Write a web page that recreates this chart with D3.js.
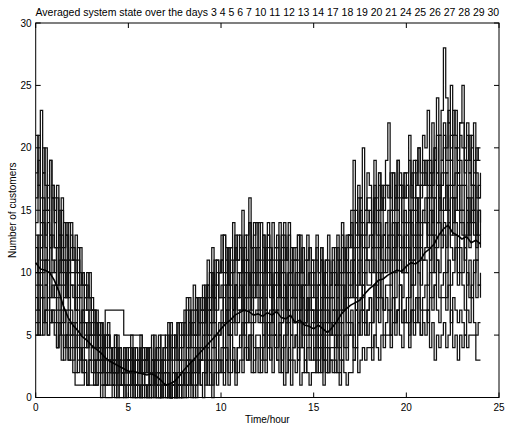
<!DOCTYPE html>
<html lang="en">
<head>
<meta charset="UTF-8">
<title>Averaged system state</title>
<script src="https://d3js.org/d3.v7.min.js"></script>
<style>
    body {
        margin: 0;
        background: #fff;
        font-family: "Liberation Sans", Arial, sans-serif;
    }
    .tick-label {
        font-size: 10px;
    }
</style>
</head>
<body>
<div id="chart"></div>
<script>
// each day is sampled every 1/8 hour, 0 .. 24 (8 values per hour, last one is t = 24)
var step = 0.125;
// the average is read every quarter hour
var avgStep = 0.25;

var s01 = [21,17,23,18,20,16,19,17, 16,12,15,11,14,13,10,12, 11,8,12,9,10,7,9,8, 7,5,6,4,6,5,3,5,
           4,2,5,3,4,2,3,4, 3,5,2,4,3,2,4,3, 4,2,5,3,4,5,3,4, 5,3,6,4,5,3,6,5,
           7,5,8,6,7,5,8,7, 9,7,11,8,12,9,11,10, 13,10,12,9,12,14,11,13, 12,15,11,13,16,12,14,11,
           14,11,13,10,13,12,9,11, 12,14,10,13,11,14,10,12, 12,9,13,10,11,13,9,11, 11,13,10,12,9,11,13,10,
           12,9,13,11,14,12,10,13, 15,19,14,17,16,20,15,18, 17,14,19,16,18,15,17,19, 22,16,18,15,19,17,16,18,
           18,21,16,19,17,20,18,21, 20,23,18,22,19,24,21,23, 28,24,22,25,21,23,20,22, 25,20,22,19,21,18,20,19, 19];
var s02 = [12,9,13,10,11,8,12,10, 11,8,10,12,9,11,8,10, 10,7,9,8,6,8,7,5, 6,4,5,3,4,2,7,7,
           7,7,7,7,7,7,5,5, 5,5,5,5,5,5,4,3, 3,4,2,3,1,2,3,2, 2,3,1,4,3,2,4,3,
           5,3,6,4,5,7,4,6, 7,5,8,6,9,7,10,8, 9,6,10,8,11,7,9,10, 8,11,7,10,9,12,8,11,
           9,7,10,8,11,9,7,10, 10,8,11,9,7,10,8,9, 8,10,7,9,6,8,10,7, 7,9,6,8,5,7,6,8,
           8,6,9,7,10,8,11,9, 11,8,12,10,13,9,11,12, 13,10,14,12,15,11,13,14, 12,15,11,14,13,16,12,15,
           14,11,15,13,16,12,14,15, 16,13,17,14,16,18,15,17, 18,15,17,19,16,18,15,17, 15,17,13,16,14,17,13,15, 14];
var s03 = [8,6,9,5,7,8,6,7, 7,4,6,5,3,5,4,3, 3,5,2,4,2,3,1,3, 2,3,1,2,0,1,0,0,
           0,1,0,2,0,0,1,0, 1,0,2,0,0,1,0,1, 0,0,2,1,0,0,1,0, 0,1,0,0,2,0,0,1,
           1,0,2,0,1,0,3,1, 0,2,1,3,0,2,1,2, 3,1,4,2,5,3,2,4, 5,3,6,4,3,5,2,4,
           4,2,5,3,6,4,2,5, 3,5,2,4,6,3,5,4, 5,3,6,4,2,4,3,5, 3,5,2,4,1,3,2,4,
           4,2,5,3,6,4,3,5, 6,4,7,5,8,6,5,7, 8,6,9,7,10,8,7,9, 9,7,10,8,11,9,8,10,
           10,8,11,9,12,10,9,11, 11,9,12,10,13,11,10,12, 13,10,14,12,11,13,10,12, 10,12,9,11,8,10,11,9, 10];
var s04 = [14,17,12,16,13,15,12,16, 12,9,13,10,11,8,14,11, 11,11,10,10,9,9,8,8, 7,7,6,5,6,4,5,6,
           4,3,5,2,4,3,4,2, 4,2,3,1,2,3,2,3, 2,4,3,1,3,4,2,3, 4,2,5,3,4,6,3,4,
           6,4,7,5,6,8,5,6, 8,6,9,7,10,8,7,10, 11,8,9,12,10,7,12,10, 10,12,8,11,9,12,8,10,
           11,8,10,12,9,11,8,9, 11,9,10,12,8,10,9,11, 9,11,8,10,7,9,10,8, 10,8,9,11,7,9,8,10,
           8,10,9,11,10,12,11,13, 13,11,14,12,15,13,12,15, 14,12,16,13,15,17,13,14, 15,13,14,16,15,17,14,16,
           17,14,15,18,16,14,17,18, 17,19,16,18,20,17,16,18, 20,18,19,21,17,20,18,19, 17,19,16,18,17,15,18,16, 17];
var s05 = [6,5,8,6,7,5,6,7, 5,4,6,3,5,4,3,4, 2,1,1,1,1,2,1,1, 1,1,1,2,1,1,1,1,
           1,1,2,1,1,1,1,1, 2,1,1,1,1,1,2,1, 1,1,1,2,1,0,1,1, 1,0,0,1,2,1,1,2,
           1,2,3,2,3,1,2,3, 3,2,4,1,3,4,2,3, 2,4,3,1,2,3,1,2, 3,2,4,3,5,2,3,4,
           2,4,3,2,4,3,5,4, 3,2,4,1,2,3,1,3, 2,3,1,2,3,2,1,2, 2,3,4,2,3,2,4,3,
           2,3,2,1,3,2,1,2, 2,3,4,2,3,4,3,4, 4,3,5,4,3,5,4,5, 5,4,6,5,7,5,4,6,
           6,5,7,6,8,6,5,7, 7,6,8,7,9,7,6,8, 8,7,9,6,8,7,6,7, 6,5,7,6,8,6,5,6, 6];
var s06 = [9,7,10,8,9,11,8,9, 8,6,7,9,6,7,5,7, 5,6,4,6,3,4,5,3, 4,2,3,4,2,3,1,3,
           2,3,1,2,3,2,1,2, 2,3,1,3,2,4,2,3, 4,2,3,1,2,3,2,3, 2,1,0,1,0,1,2,1,
           2,3,1,2,4,2,3,4, 5,3,4,6,4,5,3,5, 6,4,7,5,6,8,5,6, 7,5,8,6,7,9,6,7,
           6,8,5,7,4,6,7,5, 7,5,6,8,6,7,5,7, 6,4,7,5,6,8,5,6, 5,7,4,6,3,5,4,5,
           6,4,7,5,6,8,5,6, 7,5,8,6,7,9,6,7, 8,6,9,7,8,10,7,8, 7,5,8,6,7,9,6,7,
           6,4,7,5,6,8,5,6, 5,7,4,6,3,5,4,5, 6,4,5,7,4,5,3,5, 4,5,4,5,5,5,3,3, 3];
var s07 = [16,19,14,18,15,17,13,17, 14,16,12,15,11,13,10,13, 12,10,11,8,10,9,7,10, 8,6,7,5,6,4,5,5,
           4,2,3,4,3,2,4,3, 3,4,2,3,2,4,3,2, 3,1,2,3,4,2,3,4, 3,5,4,2,5,3,4,5,
           5,7,4,6,5,8,6,7, 8,6,9,7,10,8,11,10, 10,13,11,9,12,10,13,11, 12,10,13,11,14,12,10,12,
           11,14,12,10,13,11,14,12, 12,10,13,11,12,9,12,11, 11,13,10,12,9,11,12,10, 10,12,9,11,8,10,11,9,
           11,9,12,10,13,11,12,13, 12,15,13,16,14,12,15,16, 16,14,17,15,18,16,15,17, 17,15,18,16,19,17,16,18,
           16,19,17,15,18,20,17,19, 18,16,19,17,20,18,21,19, 21,19,22,20,23,21,19,22, 22,19,21,18,20,22,19,20, 20];
var s08 = [10,13,11,14,12,10,13,11, 10,12,9,11,8,10,7,9, 8,6,7,5,7,6,4,6, 5,3,4,5,3,4,2,3,
           3,2,4,2,3,1,2,3, 3,1,2,1,2,3,1,2, 2,1,3,1,2,1,2,1, 1,2,0,1,2,0,1,0,
           2,1,3,1,2,4,2,3, 4,2,5,3,4,6,3,5, 6,4,7,5,8,6,9,7, 7,9,6,8,10,7,9,8,
           8,6,9,7,10,8,6,9, 7,9,6,8,5,7,8,6, 8,6,7,9,6,7,5,7, 6,8,5,7,4,6,7,5,
           7,5,8,6,9,7,10,8, 9,11,8,10,9,7,10,11, 10,12,11,9,13,11,10,12, 12,10,13,11,14,12,10,13,
           13,11,14,12,15,13,11,14, 14,12,15,13,16,14,17,15, 15,17,14,16,13,15,17,14, 14,12,15,13,16,14,12,15, 13];
var s09 = [7,10,8,11,9,7,10,8, 9,7,8,6,7,5,6,5, 6,4,5,3,4,6,4,5, 4,2,3,4,2,3,1,2,
           3,1,2,3,1,2,0,1, 1,2,0,1,2,0,1,0, 1,0,2,0,1,2,0,2, 1,2,0,1,2,1,3,2,
           3,1,4,2,3,5,2,3, 6,4,7,5,6,8,5,6, 7,9,6,8,5,7,9,8, 10,7,9,11,8,10,12,9,
           10,8,11,9,12,10,8,10, 9,11,8,10,7,9,11,8, 10,7,9,8,6,8,7,9, 8,6,9,7,10,8,6,8,
           7,9,8,10,7,9,8,10, 10,12,9,11,13,10,12,11, 11,13,12,10,14,12,13,11, 13,11,14,12,15,13,12,14,
           12,15,13,11,14,16,13,15, 14,16,13,15,12,14,16,13, 16,18,15,17,14,16,18,15, 15,13,16,14,17,15,13,16, 16];
var s10 = [13,10,12,15,11,14,12,13, 12,9,11,13,10,8,11,9, 9,7,8,6,7,5,6,7, 5,7,4,6,3,5,4,5,
           4,2,3,5,4,2,3,2, 3,4,2,4,3,5,3,4, 3,1,2,3,1,2,0,2, 0,1,0,2,0,1,0,1,
           2,4,3,1,2,4,3,4, 6,8,5,7,6,8,9,8, 8,6,9,7,10,8,6,8, 9,7,10,8,6,8,10,9,
           7,9,6,8,5,7,9,7, 8,10,7,9,8,6,9,8, 7,9,6,8,5,7,8,7, 6,4,7,5,6,8,5,6,
           5,7,6,4,7,8,6,8, 8,10,7,9,11,8,10,9, 9,11,10,8,12,10,11,10, 11,9,12,10,13,11,10,12,
           10,12,9,11,13,10,12,11, 12,14,11,13,10,12,14,12, 14,12,15,13,16,14,12,15, 13,11,14,12,15,13,11,13, 12];
var s11 = [5,7,5,8,6,5,7,6, 6,4,5,7,4,5,3,5, 4,2,3,4,2,3,1,3, 3,1,2,3,2,1,2,1,
           2,1,2,0,1,2,1,1, 1,2,1,0,1,0,2,1, 0,1,0,1,0,0,1,1, 1,0,0,1,0,1,1,0,
           0,1,2,1,0,1,2,1, 2,1,3,2,1,3,2,3, 4,2,3,5,3,4,2,4, 4,6,5,3,5,6,4,5,
           5,3,4,6,4,5,7,5, 4,6,3,5,2,4,3,4, 5,3,4,6,3,5,4,3, 4,2,3,5,3,4,2,3,
           3,5,4,2,3,5,4,5, 5,3,4,6,5,7,6,5, 6,4,5,7,6,8,5,6, 7,5,8,6,7,9,6,7,
           8,6,9,7,8,10,7,8, 9,7,10,8,9,11,8,9, 10,8,11,9,10,12,9,10, 9,7,10,8,9,11,8,9, 8];
var s12 = [18,21,16,20,17,15,19,16, 15,17,13,16,12,14,11,14, 11,13,10,12,9,8,10,8, 7,5,6,4,5,3,4,4,
           3,4,2,4,3,1,2,3, 2,3,4,2,3,4,2,3, 4,2,3,5,3,4,5,5, 4,6,3,5,4,6,5,6,
           6,8,5,7,9,7,6,8, 7,9,8,10,8,11,9,10, 11,13,10,12,9,11,12,11, 13,10,12,11,14,12,13,14,
           12,10,13,11,14,12,11,12, 13,11,12,14,11,13,10,12, 11,13,10,12,9,11,12,11, 9,11,10,12,9,11,8,9,
           10,12,11,9,12,10,13,12, 14,12,15,13,16,14,13,14, 15,13,16,14,17,15,16,17, 16,18,15,17,16,18,17,16,
           17,15,18,16,19,17,16,17, 19,17,18,16,19,21,17,19, 22,20,23,19,21,20,18,21, 20,18,19,21,17,19,16,17, 18];

// averaged state
var avg = [10.8,10.3,10.2,10.0, 9.4,8.5,7.3,6.4, 5.8,5.4,4.9,4.6, 4.2,3.9,3.6,3.2, 2.9,2.7,2.5,2.3, 2.1,2.1,2.0,1.9,
           1.8,1.9,1.7,1.4, 1.0,1.1,1.3,1.7, 2.2,2.6,3.0,3.4, 3.8,4.2,4.6,5.0, 5.5,5.9,6.2,6.6, 6.8,7.0,6.9,6.6,
           6.7,6.5,6.8,6.6, 6.9,6.4,6.3,6.6, 6.0,6.2,5.8,5.7, 5.5,5.8,5.5,5.2, 5.6,6.1,6.7,7.1, 7.4,7.6,7.8,8.3,
           8.7,9.0,9.4,9.5, 9.8,10.0,10.2,10.1, 10.5,10.8,10.7,11.0, 11.6,11.9,12.3,13.0, 13.5,13.8,13.2,13.0, 12.7,12.9,12.4,12.6, 12.3];

var days = [s01, s02, s03, s04, s05, s06, s07, s08, s09, s10, s11, s12];

var xTicks = [0, 5, 10, 15, 20, 25];
var yTicks = [0, 5, 10, 15, 20, 25, 30];
var title = "Averaged system state over the days 3 4 5 6 7 10 11 12 13 14 17 18 19 20 21 24 25 26 27 28 29 30";

var width = 505,
    height = 427;
var margin = {top: 23, right: 6, bottom: 29.5, left: 35.7};

var svg = d3.select("#chart")
    .append("svg")
    .attr("width", width)
    .attr("height", height);

var x = d3.scaleLinear()
    .domain([0, 25])
    .range([margin.left, width - margin.right]);

var y = d3.scaleLinear()
    .domain([0, 30])
    .range([height - margin.bottom, margin.top]);

var line = d3.line()
    .x(function(d, i) { return x(i * step); })
    .y(function(d) { return y(d); })
    .curve(d3.curveStepAfter);

var avgLine = d3.line()
    .x(function(d, i) { return x(i * avgStep); })
    .y(function(d) { return y(d); });

// all the days, thin step lines
svg.selectAll("path.day")
    .data(days)
    .enter()
    .append("path")
    .attr("class", "day")
    .attr("d", line)
    .attr("fill", "none")
    .attr("stroke", "#111")
    .attr("stroke-width", 1.25);

// the average, a bit thicker
svg.append("path")
    .datum(avg)
    .attr("d", avgLine)
    .attr("fill", "none")
    .attr("stroke", "#000")
    .attr("stroke-width", 1.6);

// frame
var x0 = x(0), x1 = x(25), y0 = y(0), y1 = y(30);
svg.append("rect")
    .attr("x", x0)
    .attr("y", y1)
    .attr("width", x1 - x0)
    .attr("height", y0 - y1)
    .attr("fill", "none")
    .attr("stroke", "#000")
    .attr("stroke-width", 1);

var tickLen = 5;

// x ticks, inward, bottom and top
xTicks.forEach(function(t) {
    svg.append("line")
        .attr("x1", x(t)).attr("x2", x(t))
        .attr("y1", y0).attr("y2", y0 - tickLen)
        .attr("stroke", "#000");
    svg.append("line")
        .attr("x1", x(t)).attr("x2", x(t))
        .attr("y1", y1).attr("y2", y1 + tickLen)
        .attr("stroke", "#000");
    svg.append("text")
        .attr("class", "tick-label")
        .attr("x", x(t))
        .attr("y", y0 + 13)
        .attr("text-anchor", "middle")
        .text(t);
});

// y ticks, inward, left and right
yTicks.forEach(function(t) {
    svg.append("line")
        .attr("x1", x0).attr("x2", x0 + tickLen)
        .attr("y1", y(t)).attr("y2", y(t))
        .attr("stroke", "#000");
    svg.append("line")
        .attr("x1", x1).attr("x2", x1 - tickLen)
        .attr("y1", y(t)).attr("y2", y(t))
        .attr("stroke", "#000");
    svg.append("text")
        .attr("class", "tick-label")
        .attr("x", x0 - 4)
        .attr("y", y(t) + 3.5)
        .attr("text-anchor", "end")
        .text(t);
});

// labels
svg.append("text")
    .attr("x", (x0 + x1) / 2)
    .attr("y", 16)
    .attr("text-anchor", "middle")
    .style("font-size", "10.5px")
    .text(title);

svg.append("text")
    .attr("x", (x0 + x1) / 2)
    .attr("y", 423)
    .attr("text-anchor", "middle")
    .style("font-size", "10px")
    .text("Time/hour");

svg.append("text")
    .attr("transform", "translate(16," + ((y0 + y1) / 2) + ") rotate(-90)")
    .attr("text-anchor", "middle")
    .style("font-size", "10px")
    .text("Number of customers");
</script>
</body>
</html>
